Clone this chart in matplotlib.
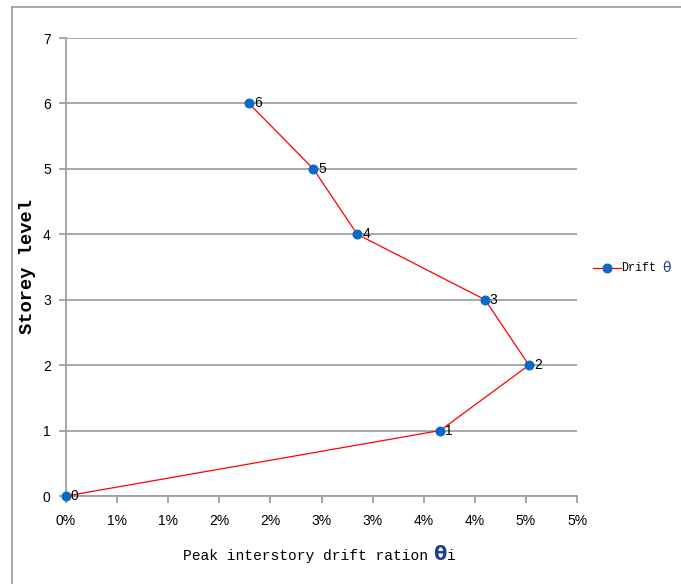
import math
import matplotlib
matplotlib.use("Agg")
import matplotlib.pyplot as plt
from matplotlib.lines import Line2D
from matplotlib.ticker import FuncFormatter, MultipleLocator

# peak drift per storey (fraction), storey 0 = ground
storeys = [0, 1, 2, 3, 4, 5, 6]
drift = [0.0, 0.0366, 0.0453, 0.0410, 0.0285, 0.0242, 0.0179]
point_labels = ["0", "1", "2", "3", "4", "5", "6"]

red = "#FF0000"
blue = "#0A6BC4"
theta_c = "#1F3F8F"
grid_c = "#A0A0A0"
narrow = ["Liberation Sans Narrow", "Liberation Sans", "DejaVu Sans"]
mono = ["Liberation Mono", "DejaVu Sans Mono"]

fig = plt.figure(figsize=(6.81, 5.84), dpi=100)
ax = fig.add_axes([66/681, 1 - 496/584, (577 - 66)/681, (496 - 38)/584])

ax.plot(drift, storeys, color=red, lw=0.9, marker="o", ms=6.2,
        mfc=blue, mec=blue, zorder=3, clip_on=False)
for x, y, s in zip(drift, storeys, point_labels):
    ax.annotate(s, (x, y), xytext=(3.5, 0), textcoords="offset points",
                ha="left", va="center", fontsize=10, family=narrow, zorder=4)

ax.set_xlim(0, 0.05)
ax.set_ylim(0, 7)
ax.xaxis.set_major_locator(MultipleLocator(0.005))
ax.yaxis.set_major_locator(MultipleLocator(1))
# whole percent, rounded half up
ax.xaxis.set_major_formatter(FuncFormatter(lambda v, p: "%d%%" % math.floor(v*100 + 0.5 + 1e-9)))

ax.grid(axis="y", color=grid_c, lw=1.3)
ax.set_axisbelow(True)
for side in ["top", "right"]:
    ax.spines[side].set_visible(False)
for side in ["left", "bottom"]:
    ax.spines[side].set_color(grid_c)
    ax.spines[side].set_linewidth(1.3)
ax.tick_params(axis="both", color=grid_c, width=1.3, length=5, labelsize=10)
ax.tick_params(axis="x", pad=8)
ax.tick_params(axis="y", pad=6)
for lab in ax.get_xticklabels() + ax.get_yticklabels():
    lab.set_family(narrow)

# axis titles
fig.text(28/681, 1 - 267/584, "Storey level", rotation=90, ha="center", va="center",
         fontsize=13.5, fontweight="bold", family=mono)
fig.text(428/681, 1 - 556/584, "Peak interstory drift ration", ha="right", va="center",
         fontsize=10.5, family=mono)
fig.text(433/681, 1 - 555/584, "\u03b8", ha="left", va="center", fontsize=14,
         fontweight="bold", color=theta_c, family=["DejaVu Sans"])
fig.text(447/681, 1 - 556/584, "i", ha="left", va="center", fontsize=10.5,
         family=mono)

# legend
fig.add_artist(Line2D([593/681, 621/681], [1 - 268/584] * 2, color=red, lw=0.9))
fig.add_artist(Line2D([607/681], [1 - 268/584], color=blue, marker="o", ms=6.2, lw=0))
fig.text(621/681, 1 - 268/584, "Drift", ha="left", va="center", fontsize=8.5,
         family=mono)
fig.text(662/681, 1 - 268/584, "\u03b8", ha="left", va="center", fontsize=10,
         color=theta_c, family=["DejaVu Sans"])

# chart area border (top and left edges)
fig.add_artist(Line2D([12/681, 1], [1 - 7/584] * 2, color="#9A9A9A", lw=1.2))
fig.add_artist(Line2D([12/681] * 2, [0, 1 - 7/584], color="#9A9A9A", lw=1.2))

fig.savefig("out.png", dpi=100)
